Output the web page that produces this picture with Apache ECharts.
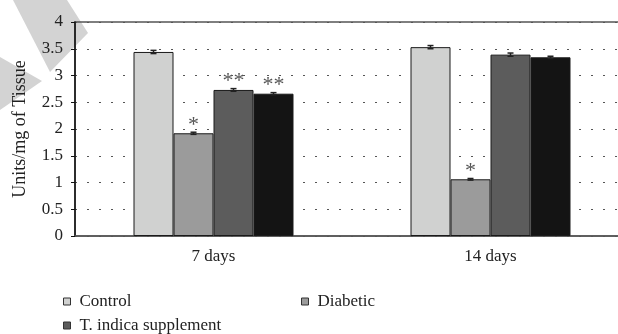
<!DOCTYPE html>
<html>
<head>
<meta charset="utf-8">
<script src="https://cdn.jsdelivr.net/npm/echarts@6/dist/echarts.min.js"></script>
<style>html,body{margin:0;padding:0;background:#fff}#c{width:618px;height:334px}</style>
</head>
<body>
<div id="c"></div>
<script>
// ---- data ----
const categories = ['7 days', '14 days'];
const seriesNames = ['Control', 'Diabetic', 'T. indica supplement', 'T. indica extract'];
const controlVals = [3.44, 3.53];
const diabeticVals = [1.92, 1.06];
const supplementVals = [2.73, 3.39];
const extractVals = [2.66, 3.34];
const controlErr = [0.03, 0.03];
const diabeticErr = [0.02, 0.015];
const supplementErr = [0.025, 0.03];
const extractErr = [0.02, 0.02];
const controlSig = ['', ''];
const diabeticSig = ['*', '*'];
const supplementSig = ['**', ''];
const extractSig = ['**', ''];
const yTicks = [0, 0.5, 1, 1.5, 2, 2.5, 3, 3.5, 4];

const values = [controlVals, diabeticVals, supplementVals, extractVals];
const errs = [controlErr, diabeticErr, supplementErr, extractErr];
const sigs = [controlSig, diabeticSig, supplementSig, extractSig];
const colors = ['#d0d1d0', '#9b9b9b', '#5c5c5c', '#141414'];
const BAR_W = 40;
const FONT = '"Liberation Serif", "DejaVu Serif", serif';

const chart = echarts.init(document.getElementById('c'), null, {renderer: 'canvas'});

const barSeries = seriesNames.map((n, i) => ({
  name: n,
  type: 'bar',
  barWidth: BAR_W,
  barGap: '0%',
  data: values[i],
  itemStyle: {color: colors[i], borderColor: '#1a1a1a', borderWidth: 1},
  z: 2
}));

const errData = [];
values.forEach((arr, si) => arr.forEach((v, ci) => errData.push([ci, si, v, errs[si][ci], sigs[si][ci]])));

const errSeries = {
  type: 'custom',
  z: 5,
  silent: true,
  data: errData.map(d => d.slice(0, 4)),
  renderItem: function (params, api) {
    const ci = api.value(0), si = api.value(1), v = api.value(2), e = api.value(3);
    const off = (si - 1.5) * BAR_W;
    const top = api.coord([ci, v + e]);
    const bot = api.coord([ci, v - e]);
    const x = top[0] + off;
    const cap = 3;
    const sig = errData[params.dataIndex][4];
    const children = [
      {type: 'line', shape: {x1: x, y1: top[1], x2: x, y2: bot[1]}, style: {stroke: '#222', lineWidth: 1.5}},
      {type: 'line', shape: {x1: x - cap, y1: top[1], x2: x + cap, y2: top[1]}, style: {stroke: '#222', lineWidth: 1.5}},
      {type: 'line', shape: {x1: x - cap, y1: bot[1], x2: x + cap, y2: bot[1]}, style: {stroke: '#222', lineWidth: 1.5}}
    ];
    if (sig) {
      children.push({type: 'text', style: {text: sig, x: x, y: top[1] - 7, align: 'center', verticalAlign: 'middle',
        font: '22px ' + FONT, fill: '#555'}});
    }
    return {type: 'group', children: children};
  }
};

const legendBase = {
  icon: 'rect', itemWidth: 7, itemHeight: 7, itemGap: 10,
  itemStyle: {borderColor: '#333', borderWidth: 1},
  textStyle: {fontFamily: FONT, fontSize: 17, color: '#222', padding: [0, 0, 0, 4]}
};

chart.setOption({
  animation: false,
  color: colors,
  graphic: [
    {type: 'polygon', z: -10, shape: {points: [[13, 0], [67, 0], [88, 33], [50, 72]]}, style: {fill: '#d3d3d3'}},
    {type: 'polygon', z: -10, shape: {points: [[0, 57], [42, 81], [0, 110]]}, style: {fill: '#d3d3d3'}}
  ],
  legend: [
    Object.assign({}, legendBase, {data: [seriesNames[0]], left: 58, top: 288}),
    Object.assign({}, legendBase, {data: [seriesNames[1]], left: 296, top: 288}),
    Object.assign({}, legendBase, {data: [seriesNames[2]], left: 58, top: 312})
  ],
  grid: {left: 75, top: 22, width: 554, height: 214, show: true, borderColor: '#555', borderWidth: 1.5,
    backgroundColor: 'transparent', outerBoundsMode: 'none', containLabel: false},
  xAxis: {
    type: 'category', data: categories,
    axisLine: {lineStyle: {color: '#555', width: 1.5}},
    axisTick: {show: false},
    axisLabel: {fontFamily: FONT, fontSize: 17, color: '#222', margin: 12}
  },
  yAxis: {
    type: 'value', min: yTicks[0], max: yTicks[yTicks.length - 1], interval: 0.5,
    name: 'Units/mg of Tissue', nameLocation: 'middle', nameGap: 46,
    nameTextStyle: {fontFamily: FONT, fontSize: 18, color: '#222'},
    axisLine: {show: true, lineStyle: {color: '#111', width: 1.5}},
    axisTick: {show: true, length: 4, lineStyle: {color: '#111'}},
    axisLabel: {fontFamily: FONT, fontSize: 17, color: '#222', margin: 12},
    splitLine: {show: true, lineStyle: {color: '#555', type: [2, 10], width: 1.2}}
  },
  series: barSeries.concat([errSeries])
});
</script>
</body>
</html>
